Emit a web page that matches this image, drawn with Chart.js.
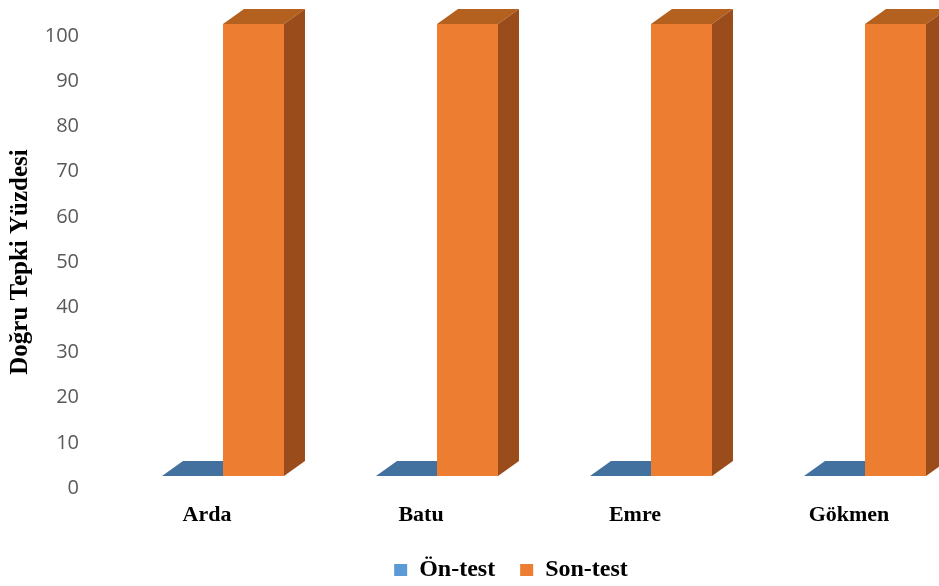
<!DOCTYPE html>
<html><head><meta charset="utf-8">
<script src="https://cdn.jsdelivr.net/npm/chart.js@4/dist/chart.umd.min.js"></script>
<style>html,body{margin:0;padding:0;background:#fff;overflow:hidden;}</style>
</head><body>
<canvas id="c" width="939" height="586"></canvas>
<script>
// ---- data ----
const categories = ['Arda', 'Batu', 'Emre', 'Gökmen'];
const onTestValues = [0, 0, 0, 0];
const sonTestValues = [100, 100, 100, 100];
const seriesNames = ['Ön-test', 'Son-test'];
const yAxisTitle = 'Doğru Tepki Yüzdesi';
const yMin = 0, yMax = 100, yStep = 10;

// ---- styling ----
const frontColors = ['#5B9BD5', '#ED7D31'];
const topColors = ['#42719F', '#B4601F'];
const sideColors = ['#36608A', '#9A4D1A'];
const DEPTH_X = 21, DEPTH_Y = -15;

const threeD = {
  id: 'threeD',
  beforeDatasetsDraw(chart) {
    const ctx = chart.ctx;
    ctx.save();
    chart.data.datasets.forEach((ds, di) => {
      const meta = chart.getDatasetMeta(di);
      meta.data.forEach(bar => {
        const p = bar.getProps(['x', 'y', 'base', 'width'], true);
        const l = p.x - p.width / 2, r = p.x + p.width / 2;
        const top = Math.min(p.y, p.base), bottom = Math.max(p.y, p.base);
        ctx.fillStyle = topColors[di];
        ctx.beginPath();
        ctx.moveTo(l, top); ctx.lineTo(r, top);
        ctx.lineTo(r + DEPTH_X, top + DEPTH_Y); ctx.lineTo(l + DEPTH_X, top + DEPTH_Y);
        ctx.closePath(); ctx.fill();
        if (bottom - top > 0.5) {
          ctx.fillStyle = sideColors[di];
          ctx.beginPath();
          ctx.moveTo(r, top); ctx.lineTo(r + DEPTH_X, top + DEPTH_Y);
          ctx.lineTo(r + DEPTH_X, bottom + DEPTH_Y); ctx.lineTo(r, bottom);
          ctx.closePath(); ctx.fill();
        }
      });
    });
    ctx.restore();
  },
  afterLayout(chart) {
    const lg = chart.legend;
    if (lg) {
      const dx = 511 - (lg.left + lg.right) / 2;
      lg.left += dx; lg.right += dx;
      lg.top += 6; lg.bottom += 6;
    }
    // nudge the rotated axis title down (pixel mapping already configured)
    const ys = chart.scales.y;
    ys.top += 12; ys.bottom += 12;
  }
};

new Chart(document.getElementById('c'), {
  type: 'bar',
  data: {
    labels: categories,
    datasets: [
      { label: seriesNames[0], data: onTestValues, backgroundColor: frontColors[0], clip: false },
      { label: seriesNames[1], data: sonTestValues, backgroundColor: frontColors[1], clip: false }
    ]
  },
  options: {
    responsive: false,
    animation: false,
    devicePixelRatio: 1,
    categoryPercentage: 0.57,
    barPercentage: 1,
    layout: { padding: { left: 0, right: 74, top: 24, bottom: 0 } },
    plugins: {
      tooltip: { enabled: false },
      legend: {
        position: 'bottom',
        labels: {
          boxWidth: 13, boxHeight: 12, padding: 25,
          color: '#000',
          font: { family: 'Liberation Serif', size: 24, weight: 'bold' }
        }
      }
    },
    scales: {
      x: {
        offset: false,
        grid: { display: false, drawTicks: false },
        border: { display: false },
        ticks: {
          padding: 26, labelOffset: -16, color: '#000',
          maxRotation: 0, autoSkip: false,
          font: { family: 'Liberation Serif', size: 22, weight: 'bold' }
        },
        afterFit(s) { s.height = 51; s.paddingLeft = 0; s.paddingRight = 0; }
      },
      y: {
        min: yMin, max: yMax,
        grid: { display: false, drawTicks: false },
        border: { display: false },
        ticks: {
          stepSize: yStep, padding: 144, labelOffset: 12, color: '#595959',
          font: { family: 'Open Sans', size: 20 }
        },
        title: {
          display: true, text: yAxisTitle, color: '#000',
          padding: { top: 6, bottom: 0 },
          font: { family: 'Liberation Serif', size: 25, weight: 'bold' }
        },
        afterFit(s) { s.width = 223; s.paddingTop = 0; s.paddingBottom = 0; }
      }
    }
  },
  plugins: [threeD]
});
</script>
</body></html>
